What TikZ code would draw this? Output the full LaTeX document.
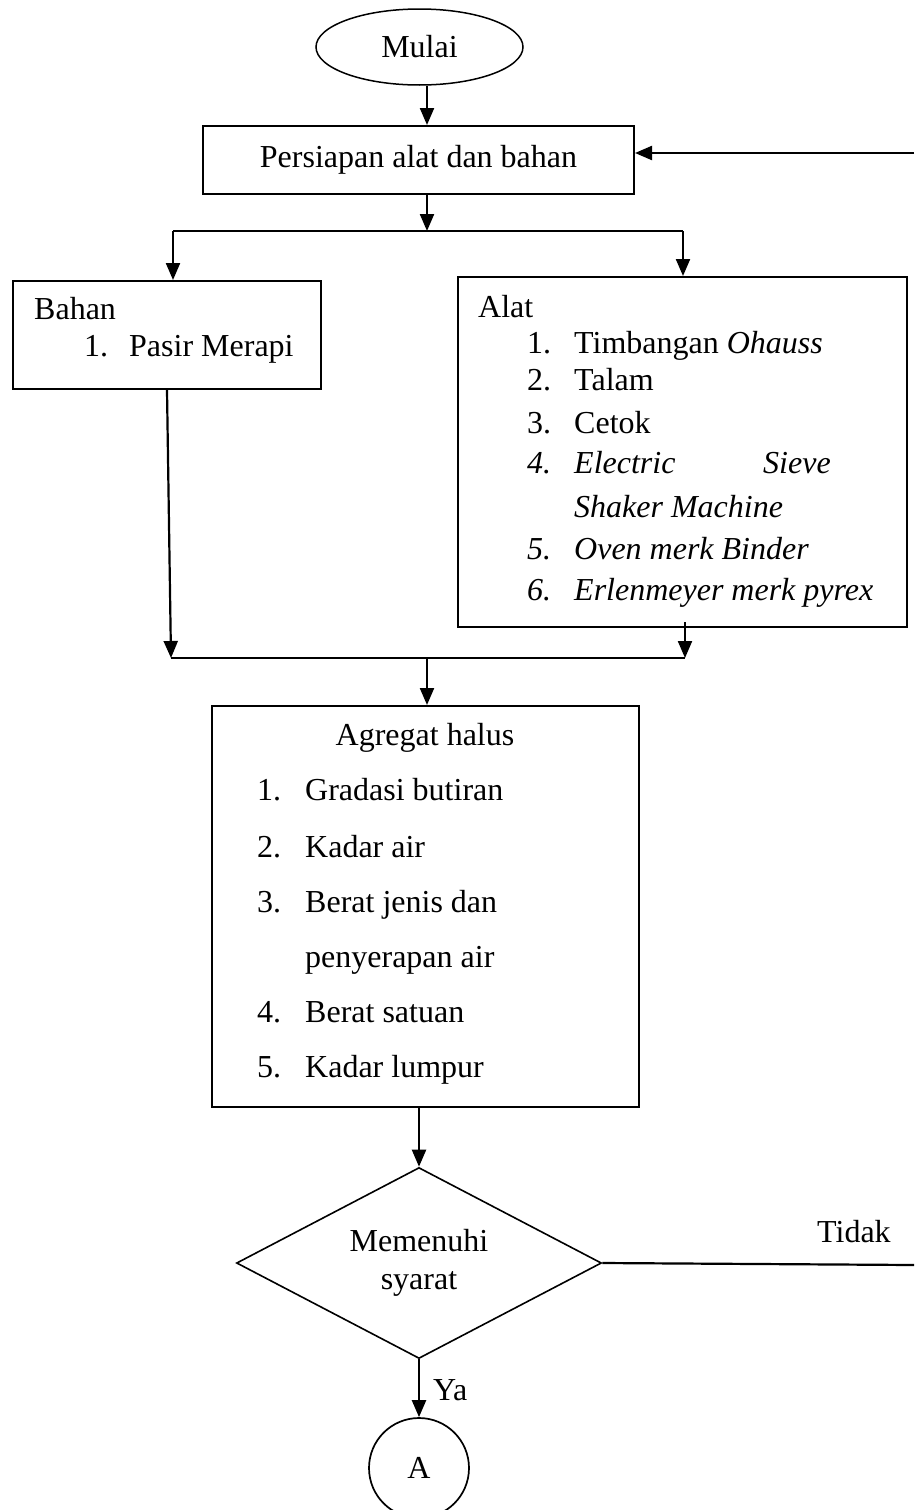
\documentclass[tikz,border=0pt]{standalone}
\usepackage{fontspec}
\setmainfont{Liberation Serif}
\usetikzlibrary{shapes.geometric,arrows.meta}

\begin{document}
\begin{tikzpicture}[x=1pt,y=-1pt,font=\fontsize{32pt}{38pt}\selectfont,
           start_style/.style={ellipse,draw=black,line width=1.5pt,minimum width=207pt,minimum height=76pt,inner sep=0pt},
           box_style/.style={rectangle,draw=black,line width=2pt,inner sep=0pt},
           cond_style/.style={diamond,draw=black,line width=1.6pt,minimum width=365pt,minimum height=191pt,inner sep=0pt},
           conn_style/.style={circle,draw=black,line width=1.7pt,minimum size=100pt,inner sep=0pt},
           text_style/.style={anchor=base west,inner sep=0pt},
           line_style/.style={draw=black,line width=2.2pt},
           arrow_style/.style={line_style,-{Triangle[length=17pt,width=14pt]}}]
            \useasboundingbox (0,0) rectangle (914,1510);
            % shapes
            \node[start_style] (start) at (419.5,47) {Mulai};
            \node[box_style,minimum width=431pt,minimum height=68pt] (prep) at (418.5,160) {Persiapan alat dan bahan};
            \node[box_style,minimum width=308pt,minimum height=108pt] (bahan) at (167,335) {};
            \node[box_style,minimum width=449pt,minimum height=350pt] (alat) at (682.5,452) {};
            \node[box_style,minimum width=427pt,minimum height=401pt] (agregat) at (425.5,906.5) {};
            \node[cond_style] (cond) at (419,1263) {};
            \node[align=center,inner sep=0pt] (cond_text) at (cond.center) {Memenuhi\\syarat};
            \node[conn_style] (conn) at (419,1468) {A};
            % helper points
            \coordinate (back) at (914,153);
            \coordinate (split) at (427,231);
            \coordinate (split_l) at (173,231);
            \coordinate (split_r) at (683,231);
            \coordinate (join) at (427,658);
            \coordinate (join_l) at (171,658);
            \coordinate (join_r) at (685,658);
            \coordinate (tidak_end) at (914,1265);
            % Bahan
            \node[text_style] (bahan_title) at (34,319) {Bahan};
            \node[text_style] (bahan_n1) at (84,356) {1.};
            \node[text_style] (bahan_t1) at (129,356) {Pasir Merapi};
            % Alat
            \node[text_style] (alat_title) at (478,317) {Alat};
            \node[text_style] (alat_n1) at (527,353) {1.};
            \node[text_style] (alat_t1) at (574,353) {Timbangan \textit{Ohauss}};
            \node[text_style] (alat_n2) at (527,390) {2.};
            \node[text_style] (alat_t2) at (574,390) {Talam};
            \node[text_style] (alat_n3) at (527,433) {3.};
            \node[text_style] (alat_t3) at (574,433) {Cetok};
            \node[text_style] (alat_n4) at (527,473) {\textit{4.}};
            \node[text_style] (alat_t4) at (574,473) {\textit{Electric}};
            \node[text_style] (alat_t4b) at (763,473) {\textit{Sieve}};
            \node[text_style] (alat_t4c) at (574,517) {\textit{Shaker Machine}};
            \node[text_style] (alat_n5) at (527,559) {\textit{5.}};
            \node[text_style] (alat_t5) at (574,559) {\textit{Oven merk Binder}};
            \node[text_style] (alat_n6) at (527,600) {\textit{6.}};
            \node[text_style] (alat_t6) at (574,600) {\textit{Erlenmeyer merk pyrex}};
            % Agregat halus
            \node[anchor=base,inner sep=0pt] (agregat_title) at (425,745) {Agregat halus};
            \node[text_style] (agregat_n1) at (257,800) {1.};
            \node[text_style] (agregat_t1) at (305,800) {Gradasi butiran};
            \node[text_style] (agregat_n2) at (257,857) {2.};
            \node[text_style] (agregat_t2) at (305,857) {Kadar air};
            \node[text_style] (agregat_n3) at (257,912) {3.};
            \node[text_style] (agregat_t3) at (305,912) {Berat jenis dan};
            \node[text_style] (agregat_t3b) at (305,967) {penyerapan air};
            \node[text_style] (agregat_n4) at (257,1022) {4.};
            \node[text_style] (agregat_t4) at (305,1022) {Berat satuan};
            \node[text_style] (agregat_n5) at (257,1077) {5.};
            \node[text_style] (agregat_t5) at (305,1077) {Kadar lumpur};
            % labels
            \node[text_style] (tidak) at (817,1242) {Tidak};
            \node[text_style] (ya) at (433,1400) {Ya};
            % connectors
            \draw[arrow_style] (start.south -| split) -- (prep.north -| split);
            \draw[arrow_style] (back) -- (back -| prep.east);
            \draw[arrow_style] (prep.south -| split) -- (split);
            \draw[line_style]  (split_l) -- (split_r);
            \draw[arrow_style] (split_l) -- (split_l |- bahan.north);
            \draw[arrow_style] (split_r) -- (split_r |- alat.north);
            \draw[arrow_style] (bahan.south) -- (join_l);
            \draw[arrow_style] ([yshift=6pt]alat.south -| join_r) -- (join_r);
            \draw[line_style]  (join_l) -- (join_r);
            \draw[arrow_style] (join) -- (join |- agregat.north);
            \draw[arrow_style] (agregat.south -| cond) -- (cond.north);
            \draw[line_style]  (cond.east) -- (tidak_end);
            \draw[arrow_style] (cond.south) -- (conn.north);
        \end{tikzpicture}
\end{document}
